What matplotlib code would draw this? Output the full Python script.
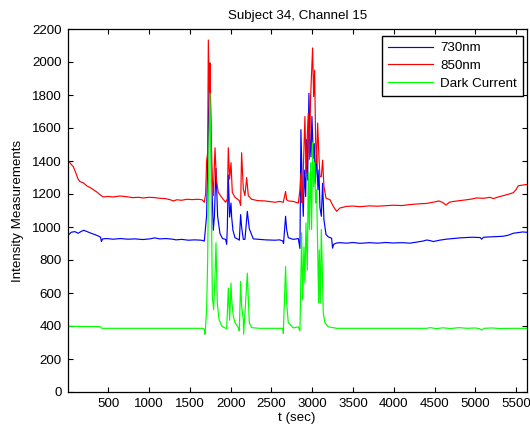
import matplotlib
matplotlib.use("Agg")
import matplotlib.pyplot as plt

plt.rcParams['font.family'] = ['Liberation Sans', 'DejaVu Sans']

# ---------------- data ----------------
t_730 = [0, 45, 90, 130, 175, 200, 250, 290, 330, 375, 405, 416, 430, 480, 560, 650, 740, 830, 920,
         1010, 1070, 1130, 1210, 1290, 1330, 1400, 1480, 1560, 1640, 1677, 1693, 1705, 1718, 1730,
         1738, 1750, 1767, 1787, 1800, 1820, 1840, 1869, 1900, 1938, 1951, 1959, 1971, 1987, 2004,
         2012, 2028, 2053, 2094, 2106, 2122, 2134, 2155, 2175, 2204, 2228, 2277, 2350, 2430, 2543,
         2600, 2640, 2648, 2673, 2686, 2706, 2767, 2829, 2849, 2861, 2870, 2878, 2890, 2902, 2919,
         2931, 2943, 2959, 2972, 2984, 2996, 3013, 3025, 3037, 3053, 3070, 3082, 3094, 3111, 3127,
         3143, 3168, 3196, 3237, 3249, 3262, 3298, 3339, 3421, 3500, 3584, 3700, 3800, 3900, 3993,
         4100, 4198, 4300, 4360, 4402, 4440, 4483, 4560, 4640, 4729, 4810, 4892, 4960, 5015, 5060,
         5075, 5100, 5178, 5260, 5342, 5400, 5464, 5525, 5580, 5630]
v_730 = [946, 968, 972, 962, 975, 980, 970, 962, 955, 946, 938, 912, 928, 930, 926, 930, 926, 928, 924,
         928, 934, 928, 930, 926, 922, 925, 920, 922, 920, 915, 1000, 1070, 1390, 1700,
         1950, 1830, 1285, 980, 1060, 1355, 1065, 960, 930, 925, 895, 1000, 1315, 1060, 1145,
         1060, 980, 935, 925, 920, 1075, 1000, 925, 925, 1095, 990, 928, 925, 922, 920,
         922, 915, 900, 1065, 985, 935, 925, 930, 870, 1590, 1400, 1225, 1065, 1345, 1185,
         1530, 1285, 1810, 1530, 1425, 1670, 1415, 1505, 1265, 1445, 1225, 1345, 1120, 1065, 1265,
         1045, 955, 940, 932, 872, 895, 903, 905, 902, 906, 901, 905, 902, 906, 903,
         905, 902, 910, 915, 921, 918, 912, 920, 926, 930, 934, 936, 938, 937, 936,
         926, 938, 940, 942, 944, 950, 962, 966, 970, 968]

t_850 = [0, 20, 45, 71, 100, 130, 153, 194, 235, 280, 316, 360, 398, 420, 439, 500, 560, 643, 720, 800,
         870, 929, 1000, 1070, 1134, 1200, 1260, 1297, 1340, 1400, 1460, 1530, 1600, 1650, 1677,
         1693, 1705, 1718, 1726, 1738, 1746, 1759, 1775, 1787, 1808, 1824, 1848, 1889, 1938, 1959,
         1971, 1987, 2004, 2020, 2053, 2106, 2122, 2134, 2155, 2175, 2196, 2216, 2257, 2330, 2420,
         2543, 2600, 2645, 2673, 2686, 2706, 2767, 2829, 2849, 2861, 2870, 2878, 2898, 2910, 2923,
         2939, 2951, 2964, 2980, 2992, 3004, 3017, 3029, 3041, 3053, 3066, 3082, 3094, 3111, 3127,
         3143, 3168, 3217, 3258, 3298, 3339, 3421, 3500, 3585, 3700, 3800, 3993, 4100, 4198, 4300,
         4402, 4480, 4553, 4600, 4639, 4680, 4729, 4810, 4892, 4960, 5015, 5100, 5178, 5219, 5280,
         5342, 5400, 5464, 5500, 5525, 5580, 5630]
v_850 = [1398, 1395, 1380, 1366, 1330, 1290, 1275, 1268, 1250, 1238, 1226, 1212, 1196, 1188, 1182, 1185,
         1182, 1188, 1184, 1178, 1180, 1176, 1180, 1178, 1174, 1172, 1165, 1158, 1165, 1162, 1168,
         1166, 1168, 1165, 1150,
         1200, 1400, 1450, 2133, 1820, 1995, 1590, 1290, 1190, 1480, 1290, 1210, 1180, 1150, 1170,
         1480, 1290, 1390, 1210, 1180, 1160, 1130, 1450, 1230, 1190, 1300, 1190, 1168, 1160, 1158,
         1150, 1155, 1150, 1215, 1165, 1158, 1155, 1145, 1225, 1325, 1150, 1145, 1465, 1670, 1325,
         1550, 1690, 1410, 1790, 1930, 2085, 1790, 1950, 1530, 1385, 1630, 1425, 1305, 1305, 1405,
         1245, 1175, 1165, 1125, 1095, 1115, 1125, 1127, 1123, 1128, 1126, 1132, 1130, 1136, 1140,
         1143, 1150, 1158, 1148, 1133, 1150, 1155, 1160, 1165, 1170, 1176, 1174, 1180, 1172, 1182,
         1190, 1198, 1208, 1228, 1250, 1254, 1258]

t_dark = [0, 100, 200, 300, 400, 420, 600, 800, 1000, 1200, 1400, 1600, 1660, 1677, 1685, 1693, 1705,
          1718, 1726, 1738, 1746, 1759, 1775, 1791, 1808, 1820, 1836, 1857, 1889, 1930, 1951, 1959,
          1971, 1987, 2004, 2012, 2032, 2053, 2094, 2106, 2122, 2134, 2155, 2159, 2175, 2204, 2228,
          2257, 2350, 2500, 2600, 2640, 2645, 2673, 2686, 2706, 2767, 2829, 2849, 2870, 2882, 2898,
          2910, 2923, 2939, 2951, 2964, 2980, 2992, 3004, 3017, 3029, 3041, 3053, 3066, 3078, 3086,
          3098, 3111, 3123, 3135, 3155, 3196, 3300, 3500, 3800, 4100, 4400, 4450, 4520, 4600, 4700,
          4800, 4900, 5000, 5050, 5075, 5110, 5200, 5300, 5450, 5630]
v_dark = [398, 398, 397, 397, 396, 386, 386, 386, 386, 386, 386, 386, 386, 380, 350, 400, 500,
          800, 1180, 1600, 1810, 1390, 580, 500, 700, 905, 540, 440, 400, 388, 385, 480,
          630, 435, 660, 560, 460, 420, 390, 370, 670, 520, 440, 350, 480, 720, 420,
          390, 386, 386, 386, 386, 355, 760, 540, 420, 388, 395, 370, 965, 560, 880,
          660, 1025, 740, 1330, 985, 1390, 985, 1511, 1245, 1390, 1145, 1225, 880, 540, 860,
          540, 985, 740, 480, 420, 395, 386, 386, 386, 386, 386, 390, 384, 389, 385,
          390, 386, 388, 384, 375, 386, 388, 385, 386, 386]

x_ticks = [500, 1000, 1500, 2000, 2500, 3000, 3500, 4000, 4500, 5000, 5500]
y_ticks = [0, 200, 400, 600, 800, 1000, 1200, 1400, 1600, 1800, 2000, 2200]

# ---------------- figure ----------------
fs = 9.6
fig = plt.figure(figsize=(5.30, 4.32), dpi=100)
ax = fig.add_axes([67.5 / 530, 1 - 392 / 432, (527 - 67.5) / 530, (392 - 29) / 432])

lw = 0.85
ax.plot(t_730, v_730, color=(0, 0, 1), lw=lw, label='730nm')
ax.plot(t_850, v_850, color=(1, 0, 0), lw=lw, label='850nm')
ax.plot(t_dark, v_dark, color=(0, 1, 0), lw=lw, label='Dark Current')

ax.set_xlim(0, 5632)
ax.set_ylim(0, 2200)
ax.set_xticks(x_ticks)
ax.set_yticks(y_ticks)
ax.tick_params(direction='in', top=True, right=True, length=3.5, width=0.8,
               labelsize=fs, colors='black', pad=4)
for s in ax.spines.values():
    s.set_linewidth(0.9)
    s.set_color('black')

ax.set_title('Subject 34, Channel 15', fontsize=fs, pad=7)
ax.set_xlabel('t (sec)', fontsize=fs, labelpad=2)
ax.set_ylabel('Intensity Measurements', fontsize=fs, labelpad=6)

leg = ax.legend(loc='upper right', bbox_to_anchor=(0.991, 0.981), borderaxespad=0,
                fancybox=False, framealpha=1, edgecolor='black', fontsize=fs,
                handlelength=3.4, handletextpad=0.5, labelspacing=0.4, borderpad=0.45)
leg.get_frame().set_linewidth(1.0)

fig.savefig('out.png', dpi=100)
